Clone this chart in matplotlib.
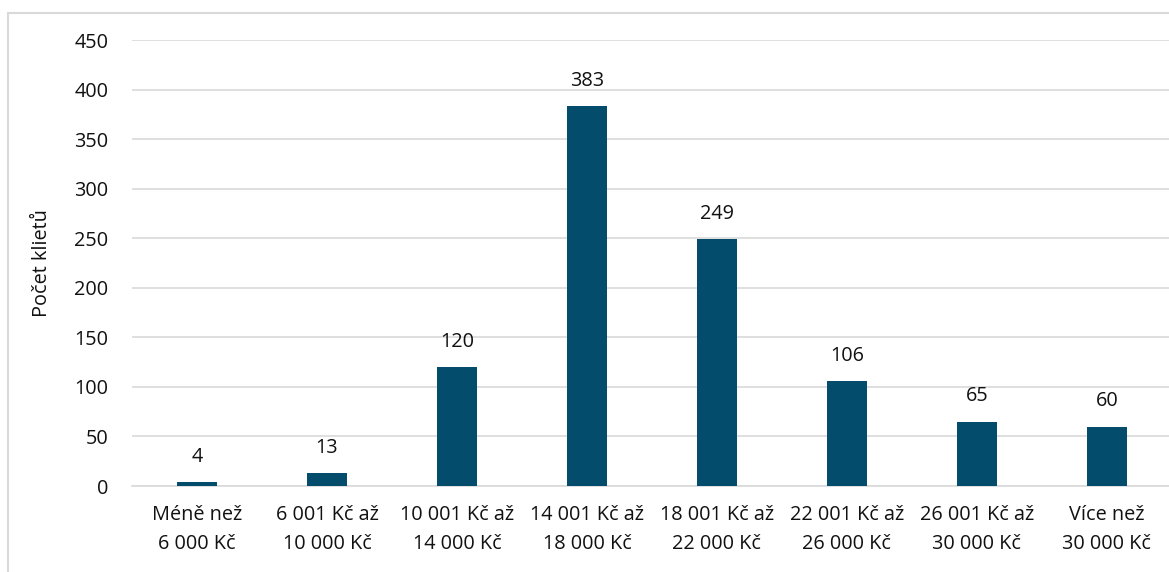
import numpy as np
import matplotlib.pyplot as plt
from matplotlib.patches import Rectangle

plt.rcParams['font.family'] = ['Open Sans', 'DejaVu Sans']

categories = ['Méně než\n6 000 Kč', '6 001 Kč až\n10 000 Kč', '10 001 Kč až\n14 000 Kč',
              '14 001 Kč až\n18 000 Kč', '18 001 Kč až\n22 000 Kč', '22 001 Kč až\n26 000 Kč',
              '26 001 Kč až\n30 000 Kč', 'Více než\n30 000 Kč']
counts = [4, 13, 120, 383, 249, 106, 65, 60]
yticks = [0, 50, 100, 150, 200, 250, 300, 350, 400, 450]

W, H = 1169, 572
fig = plt.figure(figsize=(W / 100, H / 100), dpi=100)
ax = fig.add_axes([132 / W, (H - 486) / H, 1040 / W, 446 / H])

fs = 14.3
x = np.arange(len(categories))
ax.bar(x, counts, width=0.31, color='#034c6c', zorder=3)
for xi, v in zip(x, counts):
    ax.annotate(str(v), (xi, v), xytext=(0, 11), textcoords='offset points',
                ha='center', va='bottom', fontsize=fs, color='#111111')

ax.set_xlim(-0.5, len(categories) - 0.5)
ax.set_ylim(0, 450)
ax.set_yticks(yticks)
ax.set_xticks(x)
ax.set_xticklabels(categories, fontsize=fs, color='#111111', linespacing=1.6)
ax.tick_params(axis='y', labelsize=fs, colors='#111111', length=0, pad=17)
ax.tick_params(axis='x', length=0, pad=14)
ax.grid(axis='y', color='#d9d9d9', linewidth=1.2, zorder=0)
for s in ['top', 'right', 'left']:
    ax.spines[s].set_visible(False)
ax.spines['bottom'].set_color('#d9d9d9')
ax.spines['bottom'].set_linewidth(1.2)
ax.set_ylabel('Počet klietů', fontsize=fs, color='#111111', labelpad=16)

# outer chart frame (cropped on right and bottom)
fig.patches.append(Rectangle((8 / W, -0.1), 1.2, (H - 13) / H + 0.1,
                             transform=fig.transFigure, fill=False,
                             edgecolor='#d9d9d9', linewidth=1.5))

fig.savefig('out.png', dpi=100)
